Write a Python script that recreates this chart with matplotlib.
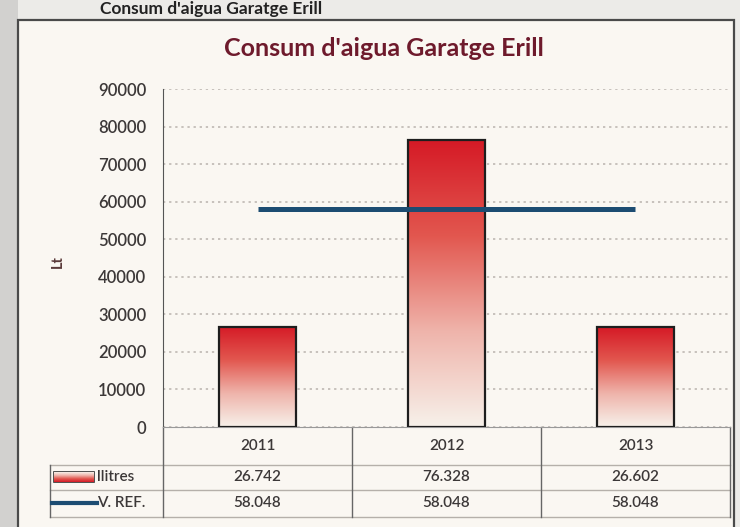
import matplotlib.pyplot as plt
import numpy as np
from matplotlib.colors import LinearSegmentedColormap
from matplotlib.patches import Rectangle
from matplotlib.lines import Line2D

years = ['2011', '2012', '2013']
litres = [26742, 76328, 26602]
ref_value = [58048, 58048, 58048]
row_labels = ['llitres', 'V. REF.']
yticks = [0, 10000, 20000, 30000, 40000, 50000, 60000, 70000, 80000, 90000]

W, H = 740, 527
plt.rcParams['font.family'] = ['Lato', 'DejaVu Sans']

red_cmap = LinearSegmentedColormap.from_list('redfade', ['#f7f1ea', '#efb4ab', '#e2574f', '#d51a26'])
blue = '#1c4c72'
text_col = '#3c3838'


def fmt(v):
    return f"{v:,}".replace(',', '.')


fig = plt.figure(figsize=(W / 100, H / 100), dpi=100)
fig.patch.set_facecolor('#ecebe8')

# background / layout axes in pixel coords
bg = fig.add_axes([0, 0, 1, 1], zorder=0)
bg.set_xlim(0, W)
bg.set_ylim(H, 0)
bg.axis('off')
bg.add_patch(Rectangle((0, 0), 18, H, facecolor='#d2d1cf', edgecolor='none'))
bg.add_patch(Rectangle((18, 20), 716, H, facecolor='#faf7f2', edgecolor='#4a4a4a', lw=1.6))
bg.text(322, 9, "Consum d'aigua Garatge Erill", ha='right', va='center',
        fontsize=12.5, fontweight='bold', color='#222')
bg.text(384, 48, "Consum d'aigua Garatge Erill", ha='center', va='center',
        fontsize=18, fontweight='bold', color='#6e1a2c')
bg.text(58, 262, 'Lt', rotation=90, ha='center', va='center', fontsize=10.5,
        fontweight='bold', color='#5a3a3a')

# main chart
left, right, top, bottom = 163, 730, 89, 427
ax = fig.add_axes([left / W, 1 - bottom / H, (right - left) / W, (bottom - top) / H], zorder=1)
ax.set_facecolor('none')
x = np.arange(len(years))
bw = 0.41

grad = np.linspace(0, 1, 256).reshape(-1, 1)
bars = ax.bar(x, litres, width=bw, facecolor='none', edgecolor='#1e1e1e', lw=1.6, zorder=3)
for b in bars:
    im = ax.imshow(grad, extent=[b.get_x(), b.get_x() + bw, 0, b.get_height()],
                   origin='lower', aspect='auto', cmap=red_cmap, zorder=2)
    im.set_clip_path(b)

ax.plot(x, ref_value, color=blue, lw=3.6, solid_capstyle='butt', zorder=4)

ax.set_xlim(-0.5, len(years) - 0.5)
ax.set_ylim(0, 90000)
ax.set_yticks(yticks)
ax.set_yticklabels([str(t) for t in yticks], fontsize=12, fontweight='semibold', color=text_col)
ax.tick_params(axis='y', length=0, pad=12)
ax.set_xticks([])
ax.yaxis.grid(True, linestyle=(0, (1.5, 2.5)), color='#b9b3ad', lw=1.1)
ax.set_axisbelow(True)
for s in ['top', 'right']:
    ax.spines[s].set_visible(False)
ax.spines['left'].set_color('#555')
ax.spines['bottom'].set_color('#999')

# data table underneath
col_w = (right - left) / len(years)
row_y = [465, 490, 517]
for yy in row_y:
    bg.add_artist(Line2D([50, right], [yy, yy], color='#b5b0aa', lw=1.0))
bg.add_artist(Line2D([50, 50], [row_y[0], row_y[-1]], color='#666', lw=1.0))
for i in range(len(years) + 1):
    xx = left + i * col_w
    bg.add_artist(Line2D([xx, xx], [bottom, row_y[-1]], color='#666', lw=1.0))

for i, yr in enumerate(years):
    cx = left + (i + 0.5) * col_w
    bg.text(cx, 446, yr, ha='center', va='center', fontsize=11, fontweight='semibold', color=text_col)
    bg.text(cx, 477, fmt(litres[i]), ha='center', va='center', fontsize=11,
            fontweight='semibold', color=text_col)
    bg.text(cx, 503, fmt(ref_value[i]), ha='center', va='center', fontsize=11,
            fontweight='semibold', color=text_col)

# legend keys
key = Rectangle((54, 472), 40, 10, facecolor='none', edgecolor='#333', lw=1.2)
bg.add_patch(key)
kim = bg.imshow(grad, extent=[54, 94, 482, 472], aspect='auto', cmap=red_cmap, zorder=1)
kim.set_clip_path(key)
bg.set_xlim(0, W)
bg.set_ylim(H, 0)
bg.add_artist(Line2D([52, 97], [503, 503], color=blue, lw=3))
bg.text(97, 477, row_labels[0], ha='left', va='center', fontsize=11, fontweight='semibold', color=text_col)
bg.text(97, 503, row_labels[1], ha='left', va='center', fontsize=11, fontweight='semibold', color=text_col)

fig.savefig('out.png', dpi=100, facecolor=fig.get_facecolor())
